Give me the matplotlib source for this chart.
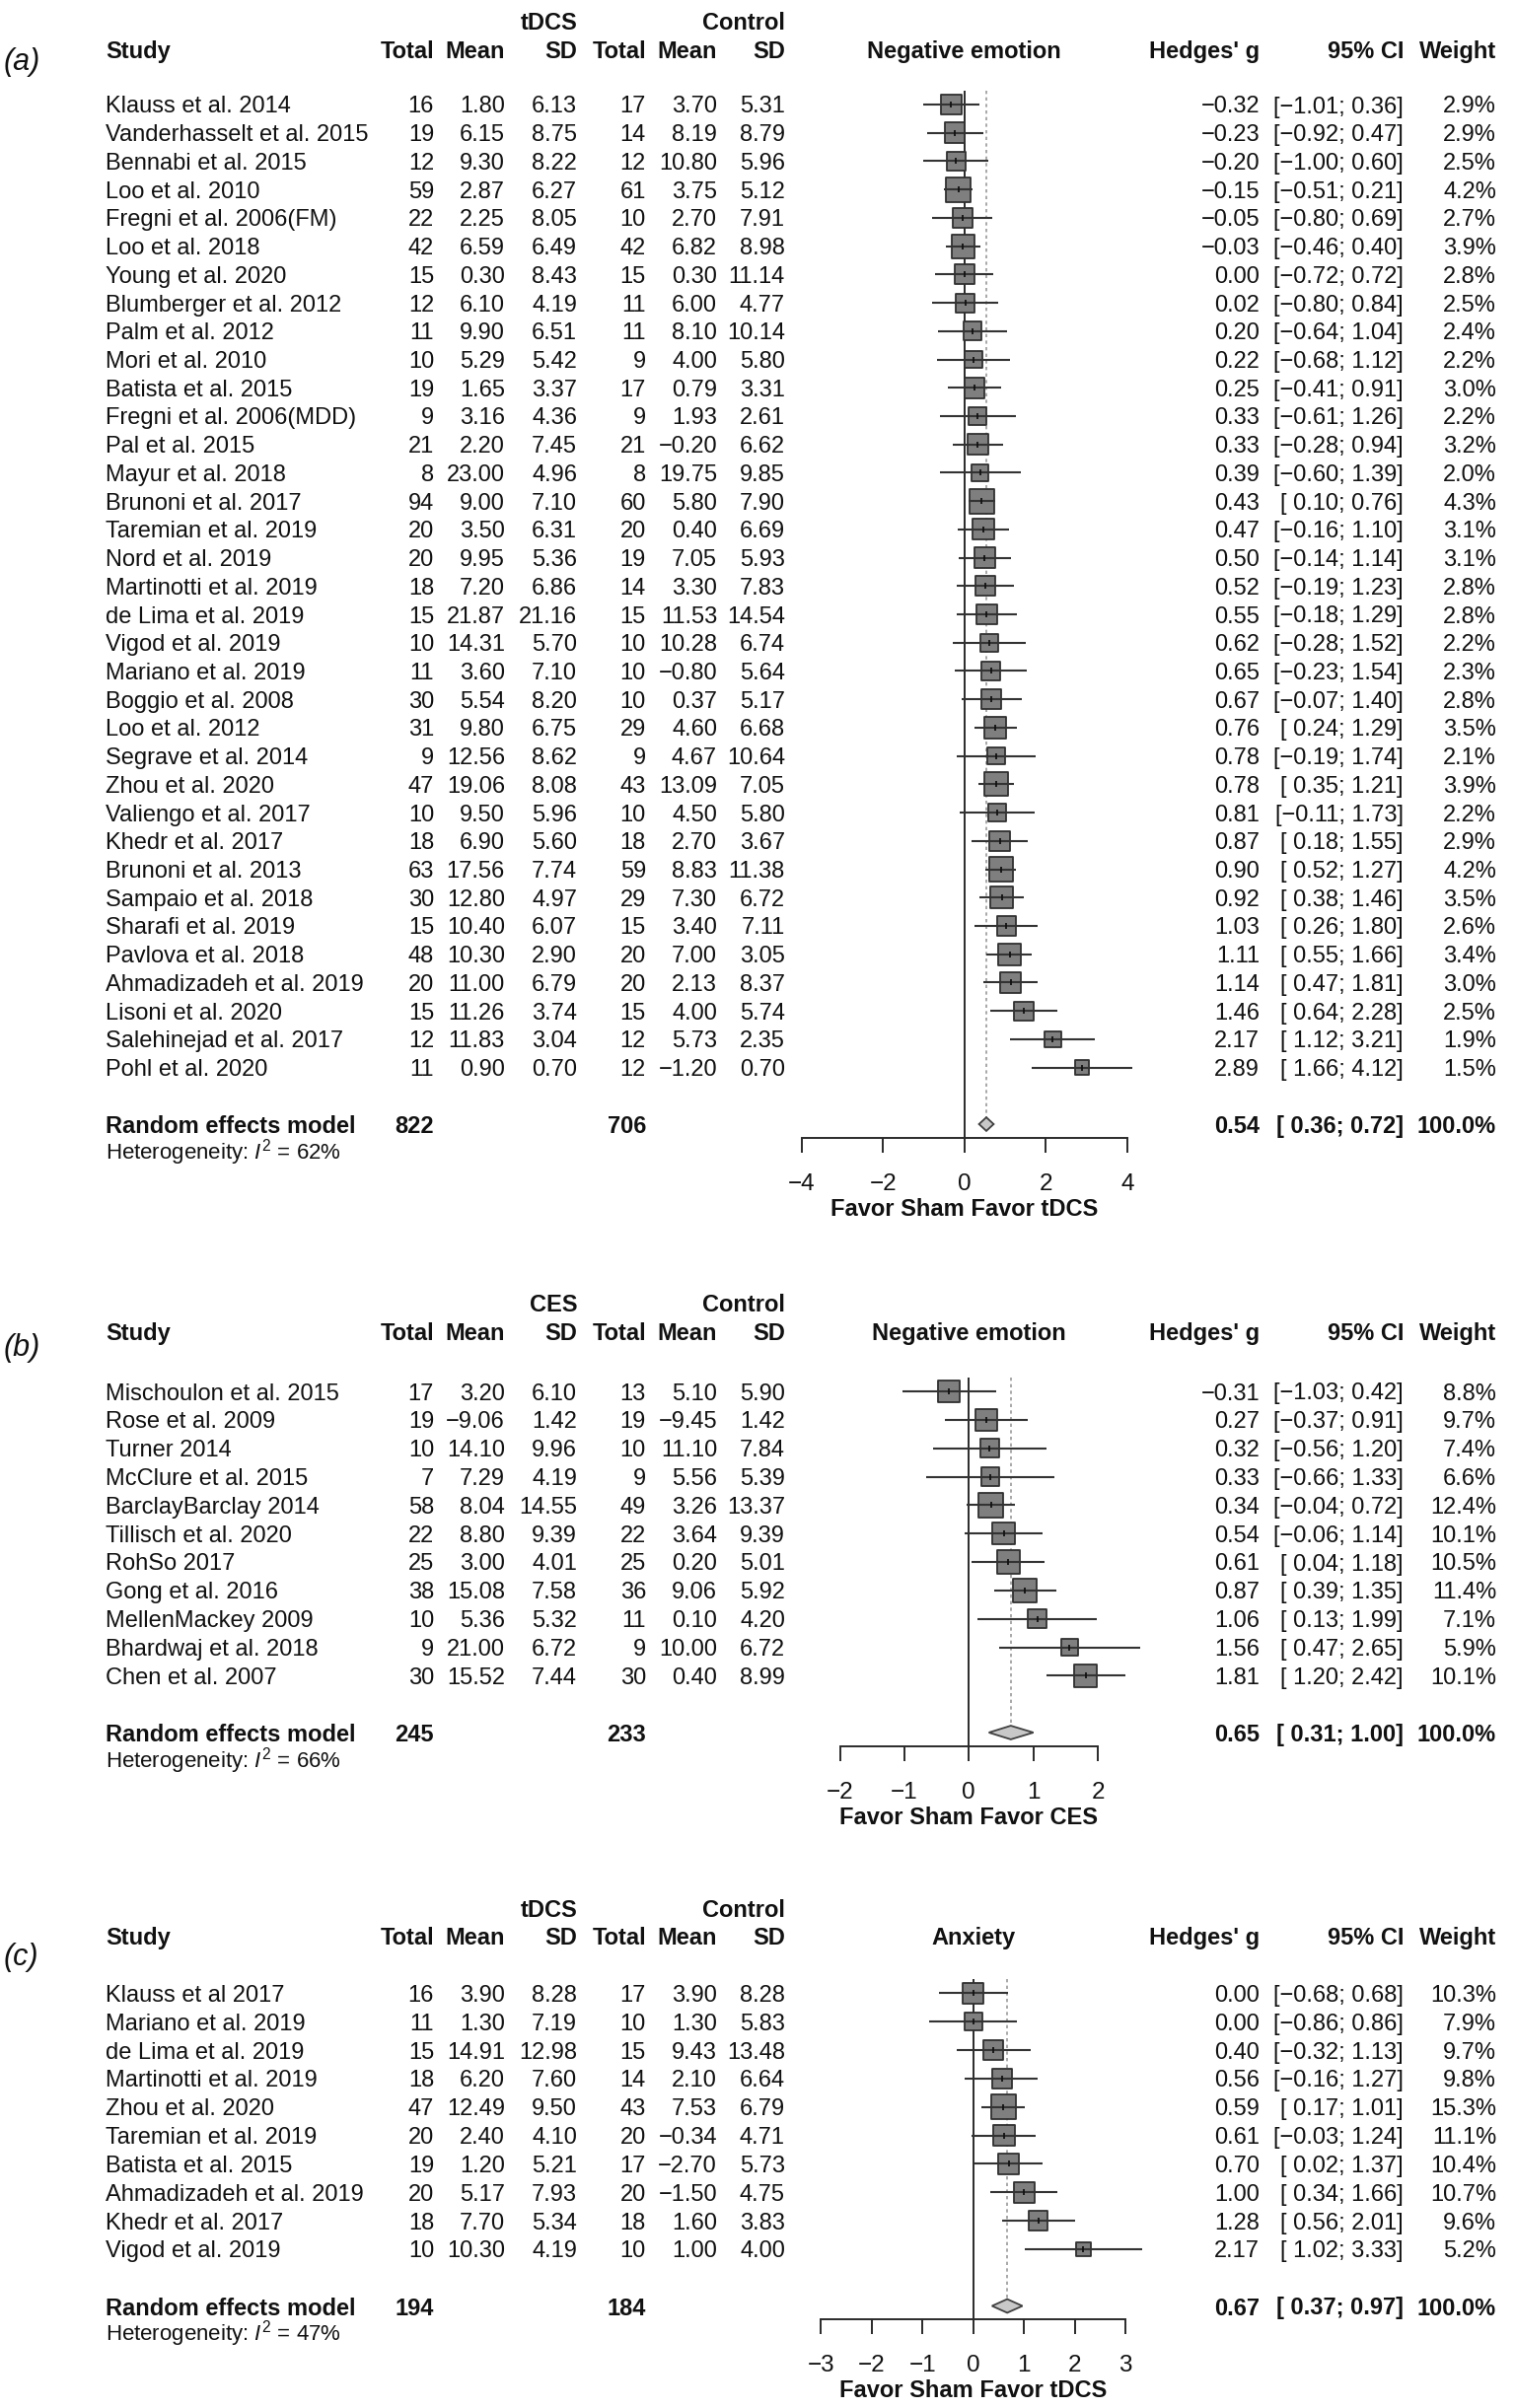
import numpy as np
import matplotlib
matplotlib.use('Agg')
import matplotlib.pyplot as plt
import matplotlib.transforms as mtrans

plt.rcParams['font.family'] = ['Liberation Sans', 'DejaVu Sans']
plt.rcParams['mathtext.fontset'] = 'custom'
plt.rcParams['mathtext.rm'] = 'Liberation Sans'
plt.rcParams['mathtext.it'] = 'Liberation Sans:italic'

# ---------------- panel (a): tDCS, negative emotion ----------------
a_study = ['Klauss et al. 2014', 'Vanderhasselt et al. 2015', 'Bennabi et al. 2015', 'Loo et al. 2010',
           'Fregni et al. 2006(FM)', 'Loo et al. 2018', 'Young et al. 2020', 'Blumberger et al. 2012',
           'Palm et al. 2012', 'Mori et al. 2010', 'Batista et al. 2015', 'Fregni et al. 2006(MDD)',
           'Pal et al. 2015', 'Mayur et al. 2018', 'Brunoni et al. 2017', 'Taremian et al. 2019',
           'Nord et al. 2019', 'Martinotti et al. 2019', 'de Lima et al. 2019', 'Vigod et al. 2019',
           'Mariano et al. 2019', 'Boggio et al. 2008', 'Loo et al. 2012', 'Segrave et al. 2014',
           'Zhou et al. 2020', 'Valiengo et al. 2017', 'Khedr et al. 2017', 'Brunoni et al. 2013',
           'Sampaio et al. 2018', 'Sharafi et al. 2019', 'Pavlova et al. 2018', 'Ahmadizadeh et al. 2019',
           'Lisoni et al. 2020', 'Salehinejad et al. 2017', 'Pohl et al. 2020']
a_n1 = [16, 19, 12, 59, 22, 42, 15, 12, 11, 10, 19, 9, 21, 8, 94, 20, 20, 18, 15, 10, 11, 30, 31, 9, 47,
        10, 18, 63, 30, 15, 48, 20, 15, 12, 11]
a_m1 = [1.80, 6.15, 9.30, 2.87, 2.25, 6.59, 0.30, 6.10, 9.90, 5.29, 1.65, 3.16, 2.20, 23.00, 9.00, 3.50,
        9.95, 7.20, 21.87, 14.31, 3.60, 5.54, 9.80, 12.56, 19.06, 9.50, 6.90, 17.56, 12.80, 10.40, 10.30,
        11.00, 11.26, 11.83, 0.90]
a_sd1 = [6.13, 8.75, 8.22, 6.27, 8.05, 6.49, 8.43, 4.19, 6.51, 5.42, 3.37, 4.36, 7.45, 4.96, 7.10, 6.31,
         5.36, 6.86, 21.16, 5.70, 7.10, 8.20, 6.75, 8.62, 8.08, 5.96, 5.60, 7.74, 4.97, 6.07, 2.90, 6.79,
         3.74, 3.04, 0.70]
a_n2 = [17, 14, 12, 61, 10, 42, 15, 11, 11, 9, 17, 9, 21, 8, 60, 20, 19, 14, 15, 10, 10, 10, 29, 9, 43,
        10, 18, 59, 29, 15, 20, 20, 15, 12, 12]
a_m2 = [3.70, 8.19, 10.80, 3.75, 2.70, 6.82, 0.30, 6.00, 8.10, 4.00, 0.79, 1.93, -0.20, 19.75, 5.80, 0.40,
        7.05, 3.30, 11.53, 10.28, -0.80, 0.37, 4.60, 4.67, 13.09, 4.50, 2.70, 8.83, 7.30, 3.40, 7.00,
        2.13, 4.00, 5.73, -1.20]
a_sd2 = [5.31, 8.79, 5.96, 5.12, 7.91, 8.98, 11.14, 4.77, 10.14, 5.80, 3.31, 2.61, 6.62, 9.85, 7.90, 6.69,
         5.93, 7.83, 14.54, 6.74, 5.64, 5.17, 6.68, 10.64, 7.05, 5.80, 3.67, 11.38, 6.72, 7.11, 3.05, 8.37,
         5.74, 2.35, 0.70]
a_g = [-0.32, -0.23, -0.20, -0.15, -0.05, -0.03, 0.00, 0.02, 0.20, 0.22, 0.25, 0.33, 0.33, 0.39, 0.43,
       0.47, 0.50, 0.52, 0.55, 0.62, 0.65, 0.67, 0.76, 0.78, 0.78, 0.81, 0.87, 0.90, 0.92, 1.03, 1.11,
       1.14, 1.46, 2.17, 2.89]
a_lo = [-1.01, -0.92, -1.00, -0.51, -0.80, -0.46, -0.72, -0.80, -0.64, -0.68, -0.41, -0.61, -0.28, -0.60,
        0.10, -0.16, -0.14, -0.19, -0.18, -0.28, -0.23, -0.07, 0.24, -0.19, 0.35, -0.11, 0.18, 0.52, 0.38,
        0.26, 0.55, 0.47, 0.64, 1.12, 1.66]
a_hi = [0.36, 0.47, 0.60, 0.21, 0.69, 0.40, 0.72, 0.84, 1.04, 1.12, 0.91, 1.26, 0.94, 1.39, 0.76, 1.10,
        1.14, 1.23, 1.29, 1.52, 1.54, 1.40, 1.29, 1.74, 1.21, 1.73, 1.55, 1.27, 1.46, 1.80, 1.66, 1.81,
        2.28, 3.21, 4.12]
a_w = [2.9, 2.9, 2.5, 4.2, 2.7, 3.9, 2.8, 2.5, 2.4, 2.2, 3.0, 2.2, 3.2, 2.0, 4.3, 3.1, 3.1, 2.8, 2.8, 2.2,
       2.3, 2.8, 3.5, 2.1, 3.9, 2.2, 2.9, 4.2, 3.5, 2.6, 3.4, 3.0, 2.5, 1.9, 1.5]
a_re = {'n1': 822, 'n2': 706, 'g': 0.54, 'lo': 0.36, 'hi': 0.72, 'i2': 62}

# ---------------- panel (b): CES, negative emotion ----------------
b_study = ['Mischoulon et al. 2015', 'Rose et al. 2009', 'Turner 2014', 'McClure et al. 2015',
           'BarclayBarclay 2014', 'Tillisch et al. 2020', 'RohSo 2017', 'Gong et al. 2016',
           'MellenMackey 2009', 'Bhardwaj et al. 2018', 'Chen et al. 2007']
b_n1 = [17, 19, 10, 7, 58, 22, 25, 38, 10, 9, 30]
b_m1 = [3.20, -9.06, 14.10, 7.29, 8.04, 8.80, 3.00, 15.08, 5.36, 21.00, 15.52]
b_sd1 = [6.10, 1.42, 9.96, 4.19, 14.55, 9.39, 4.01, 7.58, 5.32, 6.72, 7.44]
b_n2 = [13, 19, 10, 9, 49, 22, 25, 36, 11, 9, 30]
b_m2 = [5.10, -9.45, 11.10, 5.56, 3.26, 3.64, 0.20, 9.06, 0.10, 10.00, 0.40]
b_sd2 = [5.90, 1.42, 7.84, 5.39, 13.37, 9.39, 5.01, 5.92, 4.20, 6.72, 8.99]
b_g = [-0.31, 0.27, 0.32, 0.33, 0.34, 0.54, 0.61, 0.87, 1.06, 1.56, 1.81]
b_lo = [-1.03, -0.37, -0.56, -0.66, -0.04, -0.06, 0.04, 0.39, 0.13, 0.47, 1.20]
b_hi = [0.42, 0.91, 1.20, 1.33, 0.72, 1.14, 1.18, 1.35, 1.99, 2.65, 2.42]
b_w = [8.8, 9.7, 7.4, 6.6, 12.4, 10.1, 10.5, 11.4, 7.1, 5.9, 10.1]
b_re = {'n1': 245, 'n2': 233, 'g': 0.65, 'lo': 0.31, 'hi': 1.00, 'i2': 66}

# ---------------- panel (c): tDCS, anxiety ----------------
c_study = ['Klauss et al 2017', 'Mariano et al. 2019', 'de Lima et al. 2019', 'Martinotti et al. 2019',
           'Zhou et al. 2020', 'Taremian et al. 2019', 'Batista et al. 2015', 'Ahmadizadeh et al. 2019',
           'Khedr et al. 2017', 'Vigod et al. 2019']
c_n1 = [16, 11, 15, 18, 47, 20, 19, 20, 18, 10]
c_m1 = [3.90, 1.30, 14.91, 6.20, 12.49, 2.40, 1.20, 5.17, 7.70, 10.30]
c_sd1 = [8.28, 7.19, 12.98, 7.60, 9.50, 4.10, 5.21, 7.93, 5.34, 4.19]
c_n2 = [17, 10, 15, 14, 43, 20, 17, 20, 18, 10]
c_m2 = [3.90, 1.30, 9.43, 2.10, 7.53, -0.34, -2.70, -1.50, 1.60, 1.00]
c_sd2 = [8.28, 5.83, 13.48, 6.64, 6.79, 4.71, 5.73, 4.75, 3.83, 4.00]
c_g = [0.00, 0.00, 0.40, 0.56, 0.59, 0.61, 0.70, 1.00, 1.28, 2.17]
c_lo = [-0.68, -0.86, -0.32, -0.16, 0.17, -0.03, 0.02, 0.34, 0.56, 1.02]
c_hi = [0.68, 0.86, 1.13, 1.27, 1.01, 1.24, 1.37, 1.66, 2.01, 3.33]
c_w = [10.3, 7.9, 9.7, 9.8, 15.3, 11.1, 10.4, 10.7, 9.6, 5.2]
c_re = {'n1': 194, 'n2': 184, 'g': 0.67, 'lo': 0.37, 'hi': 0.97, 'i2': 47}

W, H = 1536, 2442
FS = 17
TXT = '#111111'
LINE = '#2a2a2a'
X_STUDY = 107
X_COLS = [440, 512, 585, 655, 727, 796]
X_G, X_CI, X_W = 1277, 1423, 1517
BOX_MAX = 25.0

fig = plt.figure(figsize=(W / 100, H / 100), dpi=100)


def fmt(v, nd=2):
    return f'{v:.{nd}f}'.replace('-', '\u2212')


def ci_text(lo, hi):
    return ('[' + f'{lo:5.2f}' + '; ' + f'{hi:.2f}' + ']').replace('-', '\u2212')


def draw_panel(label, label_dy, grp, outcome, xlab, y0, y_pool, y_head, zero, unit, ticks,
               study, n1, m1, sd1, n2, m2, sd2, g, lo, hi, w, re):
    n = len(study)
    pitch = (y_pool - y0) / (n + 1)
    r_top, r_bot = -3.6, n + 4.2
    top_px = y0 + r_top * pitch
    bot_px = y0 + r_bot * pitch
    ax = fig.add_axes([780 / W, 1 - bot_px / H, 400 / W, (bot_px - top_px) / H])
    ax.set_xlim((780 - zero) / unit, (1180 - zero) / unit)
    ax.set_ylim(r_bot, r_top)
    ax.patch.set_alpha(0)
    for s in ['top', 'left', 'right']:
        ax.spines[s].set_visible(False)
    ax.set_yticks([])

    rows = np.arange(n)
    y_re = n + 1
    y_axis = y_re + 14 / pitch
    r_head = (y_head - y0) / pitch
    r_grp = r_head - 28.5 / pitch

    # axis
    ax.spines['bottom'].set_position(('data', y_axis))
    ax.spines['bottom'].set_bounds(ticks[0], ticks[-1])
    ax.spines['bottom'].set_linewidth(1.4)
    ax.spines['bottom'].set_color(LINE)
    ax.set_xticks(ticks)
    ax.tick_params(axis='x', direction='out', length=10.8, width=1.4, color=LINE,
                   pad=15, labelsize=17.5, labelcolor=TXT)
    ax.set_xlabel(xlab, fontsize=FS, fontweight='bold', labelpad=2, color=TXT)
    ax.xaxis.label.set_x((zero - 780) / 400)

    # reference lines
    ax.vlines(0, -0.5, y_axis, color=LINE, lw=1.4, zorder=1)
    ax.vlines(re['g'], -0.5, y_re - 0.24, color='#9a9a9a', lw=1.2,
              linestyles=(0, (2, 2)), zorder=1)

    # study estimates
    wa = np.array(w)
    side_pt = BOX_MAX * np.sqrt(wa / wa.max()) * 0.72
    ax.scatter(g, rows, s=side_pt ** 2, marker='s', facecolor='#7f7f7f',
               edgecolor='#303030', linewidths=1.3, zorder=3)
    ax.hlines(rows, lo, hi, color='#333333', lw=1.5, zorder=4)
    ax.scatter(g, rows, s=25, marker='|', color='#111111', linewidths=1.3, zorder=5)

    # pooled diamond
    ax.fill([re['lo'], re['g'], re['hi'], re['g']],
            [y_re, y_re - 0.24, y_re, y_re + 0.24],
            facecolor='#c8c8c8', edgecolor='#404040', lw=1.3, zorder=3)

    tr = mtrans.blended_transform_factory(fig.transFigure, ax.transData)

    def put(x, r, s, ha='right', bold=False, size=FS, **kw):
        ax.text(x / W, r, s, transform=tr, ha=ha, va='center_baseline', fontsize=size,
                fontweight='bold' if bold else 'normal', color=TXT, clip_on=False, **kw)

    # headers
    put(4, r_head + label_dy / pitch, label, ha='left', size=22, style='italic')
    put(X_COLS[2], r_grp, grp, bold=True)
    put(X_COLS[5], r_grp, 'Control', bold=True)
    put(X_STUDY, r_head, 'Study', ha='left', bold=True)
    for x, h in zip(X_COLS, ['Total', 'Mean', 'SD', 'Total', 'Mean', 'SD']):
        put(x, r_head, h, bold=True)
    put(zero, r_head, outcome, ha='center', bold=True)
    put(X_G, r_head, "Hedges' g", bold=True)
    put(X_CI, r_head, '95% CI', bold=True)
    put(X_W, r_head, 'Weight', bold=True)

    # study rows
    for i in range(n):
        put(X_STUDY, i, study[i], ha='left')
        put(X_COLS[0], i, str(n1[i]))
        put(X_COLS[1], i, fmt(m1[i]))
        put(X_COLS[2], i, fmt(sd1[i]))
        put(X_COLS[3], i, str(n2[i]))
        put(X_COLS[4], i, fmt(m2[i]))
        put(X_COLS[5], i, fmt(sd2[i]))
        put(X_G, i, fmt(g[i]))
        put(X_CI, i, ci_text(lo[i], hi[i]))
        put(X_W, i, fmt(w[i], 1) + '%')

    # pooled row
    put(X_STUDY, y_re, 'Random effects model', ha='left', bold=True)
    put(X_COLS[0], y_re, str(re['n1']), bold=True)
    put(X_COLS[3], y_re, str(re['n2']), bold=True)
    put(X_G, y_re, fmt(re['g']), bold=True)
    put(X_CI, y_re, ci_text(re['lo'], re['hi']), bold=True)
    put(X_W, y_re, '100.0%', bold=True)
    put(X_STUDY, y_re + 24 / pitch, 'Heterogeneity: $I^2$ = %d%%' % re['i2'], ha='left', size=16)


draw_panel('(a)', 10, 'tDCS', 'Negative emotion', 'Favor Sham Favor tDCS', 106, 1140, 50,
           977.7, 41.3, [-4, -2, 0, 2, 4],
           a_study, a_n1, a_m1, a_sd1, a_n2, a_m2, a_sd2, a_g, a_lo, a_hi, a_w, a_re)
draw_panel('(b)', 13, 'CES', 'Negative emotion', 'Favor Sham Favor CES', 1411, 1757, 1350,
           982.3, 65.4, [-2, -1, 0, 1, 2],
           b_study, b_n1, b_m1, b_sd1, b_n2, b_m2, b_sd2, b_g, b_lo, b_hi, b_w, b_re)
draw_panel('(c)', 18, 'tDCS', 'Anxiety', 'Favor Sham Favor tDCS', 2021.4, 2338.5, 1963,
           986.7, 51.45, [-3, -2, -1, 0, 1, 2, 3],
           c_study, c_n1, c_m1, c_sd1, c_n2, c_m2, c_sd2, c_g, c_lo, c_hi, c_w, c_re)

fig.savefig('out.png', dpi=100, facecolor='white')
